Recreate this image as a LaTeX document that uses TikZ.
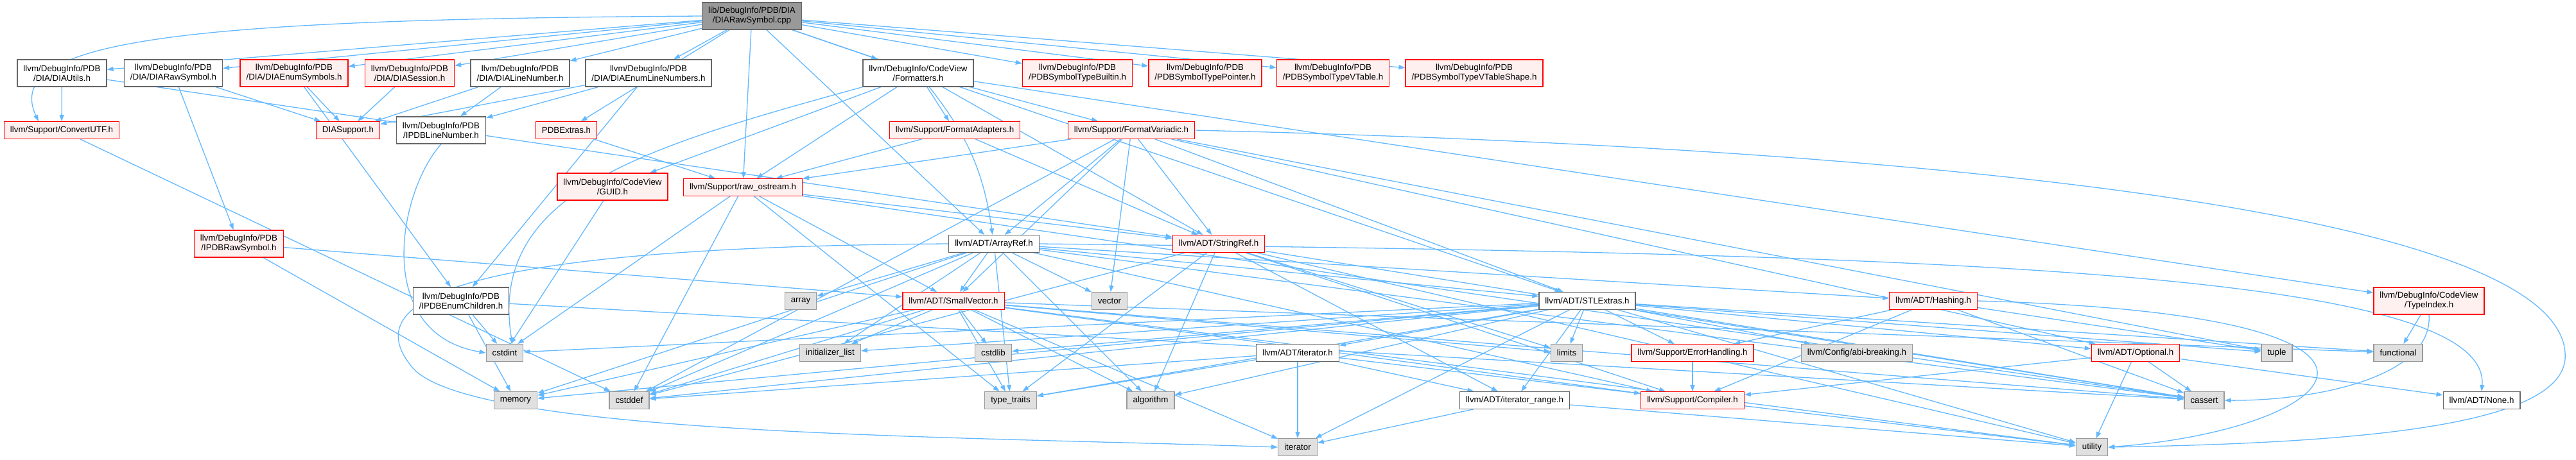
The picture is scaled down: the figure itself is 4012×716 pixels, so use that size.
\documentclass[tikz,border=0pt]{standalone}
\usepackage{fontspec}
\setmainfont{Liberation Sans}
\usetikzlibrary{arrows.meta}
\pgfdeclarelayer{bg}
\pgfsetlayers{bg,main}
\definecolor{edgec}{HTML}{63B8FF}
\definecolor{redfill}{HTML}{FFF0F0}
\definecolor{redline}{HTML}{FF0000}
\definecolor{grayfill}{HTML}{E0E0E0}
\definecolor{grayline}{HTML}{999999}
\definecolor{darkline}{HTML}{666666}
\definecolor{topfill}{HTML}{999999}
\tikzset{
  box/.style={draw, line width=1.3pt, inner xsep=9.5pt, inner ysep=3pt, minimum height=26.5pt, align=center, font=\fontsize{13.33}{15}\selectfont},
  redn/.style={box, fill=redfill, draw=redline},
  whn/.style={box, fill=white, draw=darkline},
  grn/.style={box, fill=grayfill, draw=grayline},
  topn/.style={box, fill=topfill, draw=darkline},
  twol/.style={minimum height=42pt},
  conn/.style={draw=edgec, line width=1.3pt, -{Triangle[length=10pt,width=7pt]}}
}
\begin{document}
\begin{tikzpicture}[x=1pt,y=-1pt]
\useasboundingbox (0,0) rectangle (4012,716);
% row 1
\node[topn,twol] (top) at (1171,25) {lib/DebugInfo/PDB/DIA\\/DIARawSymbol.cpp};
% row 2
\node[whn,twol] (utils) at (96.5,114) {llvm/DebugInfo/PDB\\/DIA/DIAUtils.h};
\node[whn,twol] (rawh) at (270,114) {llvm/DebugInfo/PDB\\/DIA/DIARawSymbol.h};
\node[redn,twol] (enumsym) at (458,114) {llvm/DebugInfo/PDB\\/DIA/DIAEnumSymbols.h};
\node[redn,twol] (session) at (638,114) {llvm/DebugInfo/PDB\\/DIA/DIASession.h};
\node[whn,twol] (linenum) at (810,114) {llvm/DebugInfo/PDB\\/DIA/DIALineNumber.h};
\node[whn,twol] (enumline) at (1010,114) {llvm/DebugInfo/PDB\\/DIA/DIAEnumLineNumbers.h};
\node[whn,twol] (fmt) at (1430,114) {llvm/DebugInfo/CodeView\\/Formatters.h};
\node[redn,twol] (builtin) at (1678,114) {llvm/DebugInfo/PDB\\/PDBSymbolTypeBuiltin.h};
\node[redn,twol] (pointer) at (1877,114) {llvm/DebugInfo/PDB\\/PDBSymbolTypePointer.h};
\node[redn,twol] (vtable) at (2076,114) {llvm/DebugInfo/PDB\\/PDBSymbolTypeVTable.h};
\node[redn,twol] (vtshape) at (2296,114) {llvm/DebugInfo/PDB\\/PDBSymbolTypeVTableShape.h};
% row 3
\node[redn] (convutf) at (96,203) {llvm/Support/ConvertUTF.h};
\node[redn] (diasup) at (542,203) {DIASupport.h};
\node[whn,twol] (ipdbline) at (687,203) {llvm/DebugInfo/PDB\\/IPDBLineNumber.h};
\node[redn] (pdbextras) at (882,203) {PDBExtras.h};
\node[redn] (fmtadapt) at (1487,203) {llvm/Support/FormatAdapters.h};
\node[redn] (fmtvar) at (1762,203) {llvm/Support/FormatVariadic.h};
% row 4
\node[redn,twol] (guid) at (954,291) {llvm/DebugInfo/CodeView\\/GUID.h};
\node[redn] (rawos) at (1157,292) {llvm/Support/raw\_ostream.h};
% row 5
\node[redn,twol] (ipdbraw) at (372,380) {llvm/DebugInfo/PDB\\/IPDBRawSymbol.h};
\node[whn] (arrayref) at (1548,380) {llvm/ADT/ArrayRef.h};
\node[redn] (stringref) at (1898,380) {llvm/ADT/StringRef.h};
% row 6
\node[whn,twol] (ipdbenum) at (718,469) {llvm/DebugInfo/PDB\\/IPDBEnumChildren.h};
\node[grn] (array) at (1247,469) {array};
\node[redn] (smallvec) at (1485,469) {llvm/ADT/SmallVector.h};
\node[grn] (vector) at (1728,469) {vector};
\node[whn] (stlextras) at (2472,469) {llvm/ADT/STLExtras.h};
\node[redn] (hashing) at (3011,469) {llvm/ADT/Hashing.h};
\node[redn,twol] (typeindex) at (3783,469) {llvm/DebugInfo/CodeView\\/TypeIndex.h};
% row 7
\node[grn] (cstdint) at (786,550) {cstdint};
\node[grn] (initlist) at (1293,550) {initializer\_list};
\node[grn] (cstdlib) at (1547,550) {cstdlib};
\node[whn] (iterh) at (2021,550) {llvm/ADT/iterator.h};
\node[grn] (limits) at (2440,550) {limits};
\node[redn] (errh) at (2636,550) {llvm/Support/ErrorHandling.h};
\node[grn] (abi) at (2892,550) {llvm/Config/abi-breaking.h};
\node[redn] (optional) at (3326,550) {llvm/ADT/Optional.h};
\node[grn] (tuple) at (3546,550) {tuple};
\node[grn] (functional) at (3735,550) {functional};
% row 8
\node[grn] (memory) at (803,624) {memory};
\node[grn] (cstddef) at (980,624) {cstddef};
\node[grn] (typetraits) at (1574,624) {type\_traits};
\node[grn] (algorithm) at (1792,624) {algorithm};
\node[whn] (iterrange) at (2359,624) {llvm/ADT/iterator\_range.h};
\node[redn] (compiler) at (2636,624) {llvm/Support/Compiler.h};
\node[grn] (cassert) at (3433,624) {cassert};
\node[whn] (noneh) at (3865,624) {llvm/ADT/None.h};
% row 9
\node[grn] (iterator) at (2021,697) {iterator};
\node[grn] (utility) at (3258,697) {utility};

\begin{pgfonlayer}{bg}
\draw[conn] (top.west) .. controls (300,30) and (0,60) .. ([xshift=-36pt]convutf.north);
\foreach \a/\b in {top/utils, top/rawh, top/enumsym, top/session, top/linenum, top/enumline,
  top/fmt, top/builtin, top/pointer, top/vtable, top/vtshape, top/pdbextras, top/rawos,
  top/arrayref, top/stlextras,
  utils/convutf, utils/stringref,
  rawh/diasup, rawh/ipdbraw,
  enumsym/diasup, enumsym/ipdbenum,
  session/diasup,
  linenum/diasup, linenum/ipdbline,
  enumline/diasup, enumline/ipdbline, enumline/ipdbenum,
  fmt/stringref, fmt/guid, fmt/typeindex, fmt/fmtadapt, fmt/fmtvar, fmt/rawos,
  convutf/cstddef, pdbextras/rawos,
  fmtadapt/rawos, fmtadapt/stringref,
  fmtvar/arrayref, fmtvar/stlextras, fmtvar/smallvec, fmtvar/stringref, fmtvar/rawos,
  fmtvar/cstddef, fmtvar/tuple, fmtvar/vector, fmtvar/optional,
  guid/cstdint,
  rawos/smallvec, rawos/stringref, rawos/cassert, rawos/cstddef, rawos/cstdint, rawos/typetraits,
  ipdbraw/memory, ipdbraw/smallvec,
  arrayref/hashing, arrayref/stlextras, arrayref/smallvec, arrayref/compiler,
  arrayref/algorithm, arrayref/array, arrayref/cassert, arrayref/cstddef, arrayref/initlist,
  arrayref/memory, arrayref/typetraits, arrayref/vector,
  stringref/iterrange, stringref/compiler, stringref/algorithm, stringref/cassert,
  stringref/cstddef, stringref/limits, stringref/typetraits, stringref/utility,
  ipdbenum/cassert, ipdbenum/cstdint, ipdbenum/memory,
  smallvec/compiler, smallvec/algorithm, smallvec/cassert, smallvec/cstddef, smallvec/cstdlib,
  smallvec/functional, smallvec/initlist, smallvec/iterator, smallvec/limits, smallvec/memory,
  smallvec/typetraits, smallvec/utility,
  stlextras/optional, stlextras/iterh, stlextras/iterrange, stlextras/abi, stlextras/errh,
  stlextras/algorithm, stlextras/cassert, stlextras/cstddef, stlextras/cstdint, stlextras/cstdlib,
  stlextras/functional, stlextras/initlist, stlextras/iterator, stlextras/limits, stlextras/memory,
  stlextras/tuple, stlextras/typetraits, stlextras/utility,
  hashing/errh, hashing/compiler, hashing/cassert, hashing/tuple,
  typeindex/functional,
  iterh/iterrange, iterh/iterator, iterh/utility, iterh/cstddef, iterh/typetraits,
  iterrange/iterator, iterrange/utility,
  errh/compiler,
  optional/noneh, optional/compiler, optional/cassert, optional/utility}
  \draw[conn] (\a) -- (\b);
% curved connectors
\draw[conn] (fmt.south west) .. controls (1000,230) and (760,300) .. ([xshift=12pt]cstdint.north);
\draw[conn] (ipdbline.south) .. controls (620,300) and (580,520) .. (cstdint.west);
\draw[conn] (fmt) to[bend left=15] (arrayref);
\draw[conn] (arrayref.west) .. controls (700,385) and (560,470) .. (640,570)
  .. controls (720,680) and (1500,680) .. (iterator.west);
\draw[conn] (arrayref.east) .. controls (3000,395) and (3880,420) .. (noneh.north);
\draw[conn] (typeindex.south) .. controls (3790,590) and (3600,625) .. (cassert.east);
\draw[conn] (hashing.east) .. controls (3850,490) and (3650,670) .. (utility.east);
\draw[conn] (fmtvar.east) .. controls (3000,230) and (4010,330) .. (3995,560)
  .. controls (3985,660) and (3700,690) .. (utility.east);
\end{pgfonlayer}
\end{tikzpicture}
\end{document}
